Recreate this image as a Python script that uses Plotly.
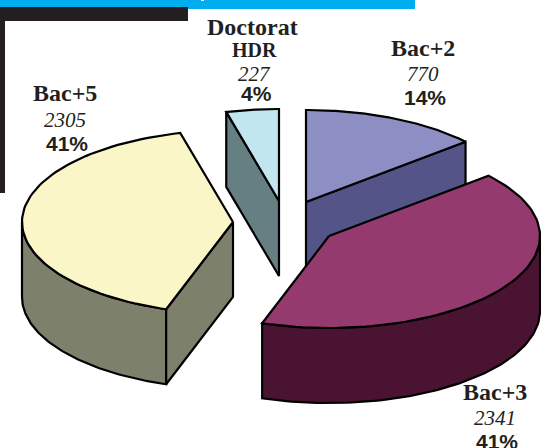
import numpy as np
import plotly.graph_objects as go

# data
categories = ["Bac+2", "Bac+3", "Bac+5", "Doctorat"]
counts = [770, 2341, 2305, 227]
percents = ["14%", "41%", "41%", "4%"]

# pie geometry, in page pixels
centers = [(306, 202), (329, 236), (233, 222), (279, 201)]
RX, RY = 211, 92
DEPTH = 75

top_colors = ["#8D8EC4", "#953A6E", "#FAF6C8", "#C2E6EF"]
side_colors = ["#545488", "#4A1332", "#7D806B", "#667F82"]
INK = "#231F20"


def arc(center, a0, a1):
    t = np.radians(np.linspace(a0, a1, 80))
    return center[0] + RX * np.sin(t), center[1] - RY * np.cos(t)


def add_poly(fig, xs, ys, color):
    fig.add_trace(go.Scatter(x=list(xs) + [xs[0]], y=list(ys) + [ys[0]], mode="lines",
                             fill="toself", fillcolor=color,
                             line=dict(color="black", width=2.2), hoverinfo="skip"))


def add_slice(fig, center, a0, a1, top, side):
    cx, cy = center
    # outer wall, only the part facing the viewer
    r0, r1 = max(a0, 90), min(a1, 270)
    if r1 > r0:
        x, y = arc(center, r0, r1)
        add_poly(fig, np.r_[x, x[::-1]], np.r_[y, y[::-1] + DEPTH], side)
    # cut faces that face the viewer
    for a, visible in ((a0, 180 < a0 < 360), (a1, 0 < a1 < 180)):
        if visible:
            x, y = arc(center, a, a)
            add_poly(fig, [cx, x[0], x[0], cx], [cy, y[0], y[0] + DEPTH, cy + DEPTH], side)
    x, y = arc(center, a0, a1)
    add_poly(fig, np.r_[cx, x], np.r_[cy, y], top)


edges = np.r_[0, np.cumsum(counts)] / sum(counts) * 360

fig = go.Figure()
for i in [0, 3, 2, 1]:
    add_slice(fig, centers[i], edges[i], edges[i + 1], top_colors[i], side_colors[i])

# label blocks: slice index, then centre x and the y of each row
label_pos = {
    0: (423, 48, 74, 97),
    1: (495, 392, 418, 441),
    2: (65, 93, 120, 143),
    3: (254, 50, 74, 93),
}
serif = "Liberation Serif"
sans = "Liberation Sans"
annotations = []


def add_text(x, y, text, size, family, bold=False, italic=False):
    if bold:
        text = "<b>" + text + "</b>"
    if italic:
        text = "<i>" + text + "</i>"
    annotations.append(dict(x=x, y=y, text=text, showarrow=False, xanchor="center", yanchor="middle",
                            font=dict(size=size, family=family, color=INK)))


for i, (x, y1, y2, y3) in label_pos.items():
    name = categories[i]
    if name == "Doctorat":
        add_text(252, 27, name, 24, serif, bold=True)
        add_text(x, y1, "HDR", 20, serif, bold=True)
    else:
        add_text(x, y1, name, 24, serif, bold=True)
    add_text(x, y2, str(counts[i]), 21, serif, italic=True)
    add_text(x + 2, y3, percents[i], 21, sans, bold=True)

# page furniture
shapes = [
    dict(type="rect", x0=0, x1=415, y0=0, y1=9, fillcolor="#00AEEF", line_width=0, layer="below"),
    dict(type="rect", x0=201, x1=204, y0=0, y1=1, fillcolor="white", line_width=0, layer="below"),
    dict(type="rect", x0=0, x1=188, y0=7, y1=21, fillcolor=INK, line_width=0, layer="below"),
    dict(type="rect", x0=0, x1=5, y0=21, y1=193, fillcolor=INK, line_width=0, layer="below"),
]

fig.update_layout(width=541, height=448, margin=dict(l=0, r=0, t=0, b=0),
                  paper_bgcolor="white", plot_bgcolor="white", showlegend=False,
                  annotations=annotations, shapes=shapes)
fig.update_xaxes(range=[0, 541], visible=False, fixedrange=True)
fig.update_yaxes(range=[448, 0], visible=False, fixedrange=True)

# the page margin would push the figure off the window
fig.write_html("out.html", config=dict(displayModeBar=False),
               post_script="document.body.style.margin='0';document.body.style.overflow='hidden';")
